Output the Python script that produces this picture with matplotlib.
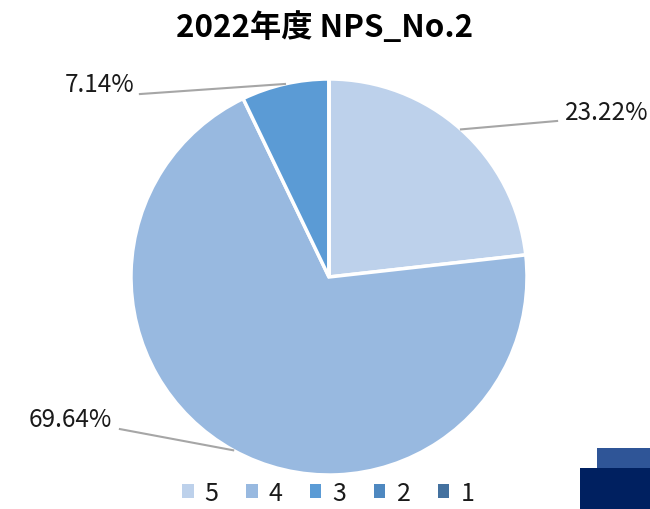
import numpy as np
import matplotlib
matplotlib.use('Agg')
import matplotlib.pyplot as plt
from matplotlib.patches import Patch, Rectangle

plt.rcParams['font.family'] = ['Noto Sans CJK JP', 'DejaVu Sans']

# 数据
labels = ['5', '4', '3', '2', '1']
shares = [23.22, 69.64, 7.14, 0.0, 0.0]
colors = ['#BDD1EB', '#98B9E0', '#5B9BD5', '#4E88C0', '#44719F']
title = '2022年度 NPS_No.2'

fig = plt.figure(figsize=(6.5, 5.1), dpi=100)
r_px = 198
cx, cy = 329, 278
ax = fig.add_axes([(cx - r_px) / 650, (510 - cy - r_px) / 510, 2 * r_px / 650, 2 * r_px / 510])
wedges, _ = ax.pie(shares, colors=colors, startangle=90, counterclock=False,
                   radius=1.0, wedgeprops=dict(edgecolor='white', linewidth=2.5))
ax.set_xlim(-1, 1)
ax.set_ylim(-1, 1)
ax.set_aspect('equal')
ax.axis('off')

# 标签位置 (相对半径单位)
label_pos = {0: (1.19, 0.833, 'left', (1.152, 0.788)),
             1: (-1.095, -0.717, 'right', (-1.056, -0.768)),
             2: (-0.98, 0.975, 'right', (-0.955, 0.924))}
for i, (tx, ty, ha, lend) in label_pos.items():
    w = wedges[i]
    mid = np.deg2rad((w.theta1 + w.theta2) / 2)
    sx, sy = np.cos(mid), np.sin(mid)
    ax.plot([sx, lend[0]], [sy, lend[1]], color='#A6A6A6', lw=1.5, clip_on=False)
    ax.text(tx, ty, f'{shares[i]:.2f}%', ha=ha, va='center', fontsize=17.5,
            color='#1a1a1a', clip_on=False)

fig.text(0.5, 1 - 28 / 510, title, ha='center', va='center', fontsize=22.5,
         fontweight='bold', color='black')

handles = [Patch(facecolor=c, edgecolor='none') for c in colors]
fig.legend(handles, labels, loc='center', bbox_to_anchor=(0.505, 1 - 494 / 510), ncol=5,
           frameon=False, fontsize=18, handlelength=0.45, handleheight=0.45,
           handletextpad=0.45, columnspacing=1.1, labelcolor='#1a1a1a',
           borderpad=0.1)

# 右下角装饰块
fig.patches.append(Rectangle((597 / 650, 1 - 469 / 510), 53 / 650, 20 / 510,
                             transform=fig.transFigure, facecolor='#2F5597', edgecolor='none'))
fig.patches.append(Rectangle((580 / 650, 0), 70 / 650, 41 / 510,
                             transform=fig.transFigure, facecolor='#002060', edgecolor='none'))

fig.savefig('out.png', dpi=100)
